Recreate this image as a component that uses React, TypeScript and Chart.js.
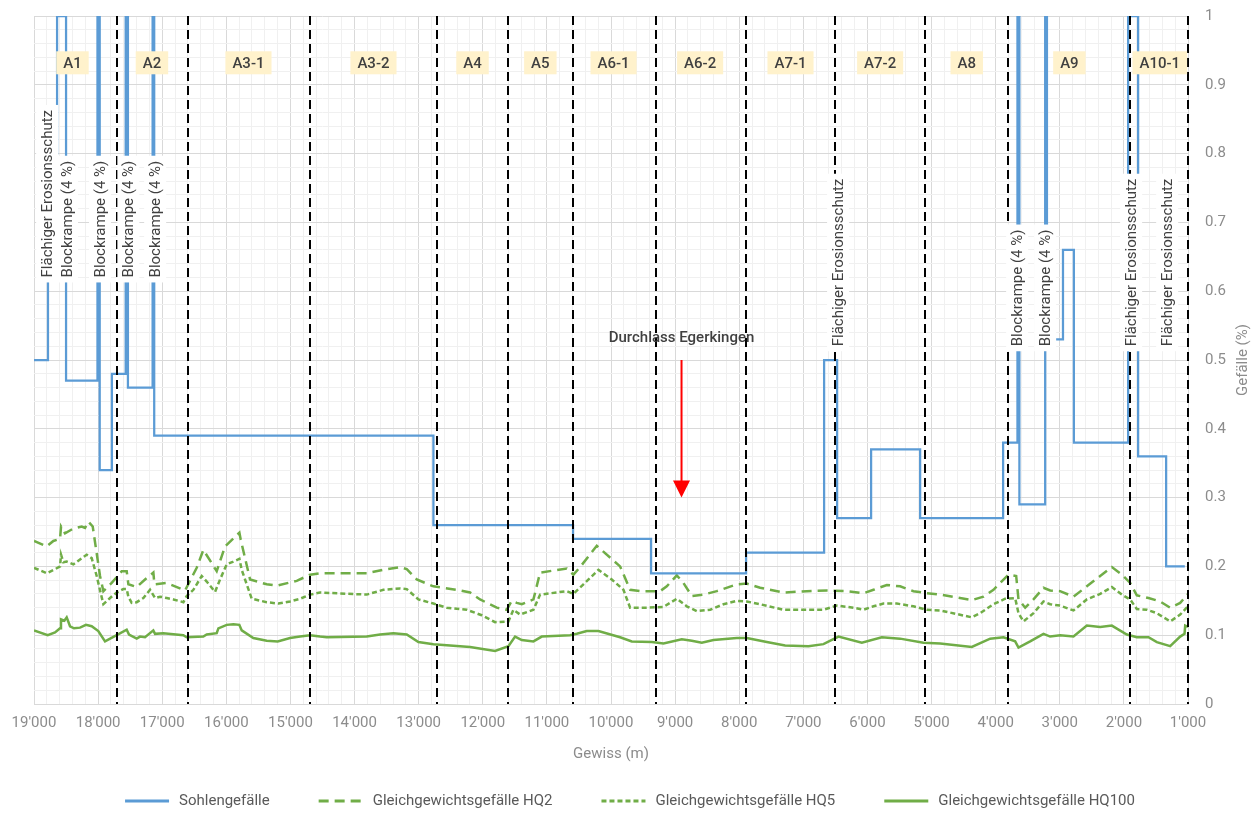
import React, { useEffect, useRef } from 'react';
import { Chart, registerables } from 'chart.js';

Chart.register(...registerables);

const FONT = 'Roboto, "Noto Sans", "DejaVu Sans", sans-serif';

// ---- Sohlengefälle (step function): break points along the river (m) and slope of each segment (%)
const sohleBreaks = [19000, 18782, 18640, 18500, 18010, 17975, 17785, 17570, 17535, 17150, 17125, 12770, 10592, 9375, 7893, 6676, 6473, 5943, 5178, 3884, 3660, 3630, 3228, 3200, 2950, 2780, 1934, 1778, 1341, 1050];
const sohleValues = [0.5, 0.8, 1.0, 0.47, 4, 0.34, 0.48, 4, 0.46, 4, 0.39, 0.26, 0.24, 0.19, 0.22, 0.5, 0.27, 0.37, 0.27, 0.38, 4, 0.29, 4, 0.53, 0.66, 0.38, 1.0, 0.36, 0.2];

// ---- Gleichgewichtsgefälle HQ2
const hq2Dist = [19000, 18802, 18698, 18594, 18578, 18516, 18386, 18256, 18204, 18152, 18084, 17970, 17918, 17788, 17632, 17554, 17528, 17398, 17268, 17138, 17122, 16930, 16644, 16462, 16358, 16150, 16020, 15796, 15776, 15630, 15370, 15214, 14902, 14694, 14538, 13810, 13550, 13290, 13186, 13030, 12770, 12406, 12198, 12042, 11782, 11626, 11548, 11470, 11392, 11210, 11106, 10898, 10690, 10586, 10482, 10222, 9858, 9702, 9546, 9234, 9130, 8974, 8870, 8740, 8558, 8350, 8038, 7882, 7674, 7310, 6946, 6634, 6322, 6062, 5906, 5698, 5490, 5282, 5074, 4866, 4372, 4190, 4034, 3800, 3680, 3644, 3540, 3410, 3254, 3150, 2994, 2786, 2578, 2370, 2188, 2032, 1902, 1798, 1616, 1434, 1278, 1122, 1000];
const hq2Values = [0.237, 0.229, 0.237, 0.240, 0.258, 0.248, 0.255, 0.258, 0.256, 0.265, 0.258, 0.186, 0.164, 0.176, 0.193, 0.193, 0.174, 0.170, 0.181, 0.191, 0.174, 0.176, 0.165, 0.198, 0.224, 0.193, 0.229, 0.249, 0.239, 0.181, 0.174, 0.172, 0.179, 0.188, 0.190, 0.190, 0.195, 0.199, 0.196, 0.181, 0.171, 0.166, 0.162, 0.152, 0.140, 0.137, 0.150, 0.147, 0.145, 0.152, 0.191, 0.194, 0.197, 0.188, 0.199, 0.230, 0.200, 0.166, 0.164, 0.164, 0.171, 0.187, 0.176, 0.157, 0.159, 0.164, 0.174, 0.175, 0.169, 0.162, 0.164, 0.165, 0.164, 0.161, 0.166, 0.173, 0.171, 0.164, 0.161, 0.159, 0.151, 0.156, 0.166, 0.188, 0.186, 0.152, 0.140, 0.152, 0.169, 0.165, 0.164, 0.156, 0.171, 0.186, 0.199, 0.188, 0.176, 0.158, 0.154, 0.149, 0.140, 0.147, 0.160];

// ---- Gleichgewichtsgefälle HQ5
const hq5Dist = [19000, 18802, 18672, 18594, 18578, 18542, 18490, 18386, 18282, 18178, 18100, 18022, 17918, 17814, 17710, 17606, 17554, 17528, 17476, 17398, 17294, 17190, 17112, 17034, 16930, 16826, 16670, 16618, 16514, 16384, 16306, 16176, 16098, 15994, 15890, 15796, 15760, 15604, 15370, 15188, 15006, 14850, 14694, 14538, 13810, 13550, 13290, 13186, 13004, 12770, 12562, 12250, 12016, 11808, 11600, 11522, 11418, 11210, 11106, 10690, 10586, 10430, 10196, 9988, 9806, 9702, 9442, 9182, 8974, 8818, 8662, 8454, 8246, 8038, 7882, 7674, 7310, 6946, 6686, 6478, 6218, 6062, 5906, 5750, 5542, 5282, 5074, 4866, 4372, 4242, 4034, 3852, 3696, 3644, 3566, 3410, 3254, 3150, 2994, 2786, 2578, 2370, 2188, 2032, 1902, 1798, 1642, 1486, 1278, 1122, 1000];
const hq5Values = [0.198, 0.190, 0.196, 0.200, 0.217, 0.206, 0.207, 0.203, 0.210, 0.217, 0.212, 0.186, 0.145, 0.154, 0.162, 0.167, 0.167, 0.156, 0.147, 0.148, 0.154, 0.166, 0.154, 0.156, 0.154, 0.152, 0.148, 0.157, 0.166, 0.186, 0.178, 0.163, 0.181, 0.203, 0.207, 0.211, 0.195, 0.153, 0.148, 0.146, 0.149, 0.153, 0.159, 0.162, 0.159, 0.166, 0.168, 0.167, 0.152, 0.146, 0.140, 0.137, 0.129, 0.119, 0.120, 0.137, 0.130, 0.137, 0.159, 0.164, 0.160, 0.174, 0.195, 0.181, 0.166, 0.140, 0.140, 0.141, 0.153, 0.142, 0.135, 0.137, 0.145, 0.150, 0.149, 0.145, 0.137, 0.137, 0.137, 0.143, 0.140, 0.137, 0.142, 0.146, 0.146, 0.142, 0.137, 0.136, 0.126, 0.132, 0.145, 0.153, 0.154, 0.132, 0.120, 0.132, 0.149, 0.145, 0.143, 0.136, 0.152, 0.160, 0.170, 0.159, 0.152, 0.138, 0.137, 0.132, 0.120, 0.130, 0.142];

// ---- Gleichgewichtsgefälle HQ100
const hq100Dist = [19000, 18786, 18672, 18594, 18579, 18527, 18490, 18438, 18376, 18282, 18189, 18100, 17997, 17892, 17710, 17554, 17518, 17398, 17346, 17268, 17139, 17112, 16983, 16671, 16618, 16359, 16306, 16150, 16124, 15994, 15890, 15797, 15760, 15579, 15370, 15199, 15006, 14850, 14694, 14538, 14434, 13810, 13602, 13394, 13186, 13004, 12770, 12198, 11808, 11600, 11496, 11392, 11210, 11080, 10638, 10534, 10378, 10196, 9858, 9676, 9364, 9182, 8896, 8740, 8584, 8402, 8038, 7882, 7570, 7284, 6920, 6686, 6452, 6088, 5776, 5490, 5126, 4866, 4372, 4086, 3878, 3696, 3644, 3462, 3254, 3150, 2994, 2786, 2578, 2370, 2188, 1954, 1798, 1616, 1486, 1278, 1122, 1054, 1044, 1000];
const hq100Values = [0.107, 0.100, 0.104, 0.110, 0.123, 0.121, 0.126, 0.113, 0.110, 0.111, 0.115, 0.113, 0.106, 0.091, 0.100, 0.108, 0.101, 0.095, 0.098, 0.097, 0.107, 0.102, 0.103, 0.100, 0.097, 0.098, 0.101, 0.103, 0.110, 0.115, 0.116, 0.115, 0.107, 0.096, 0.092, 0.091, 0.096, 0.098, 0.100, 0.098, 0.097, 0.098, 0.101, 0.103, 0.101, 0.090, 0.087, 0.083, 0.077, 0.084, 0.098, 0.093, 0.091, 0.098, 0.100, 0.102, 0.106, 0.106, 0.097, 0.091, 0.090, 0.088, 0.094, 0.092, 0.089, 0.093, 0.096, 0.096, 0.090, 0.085, 0.084, 0.087, 0.098, 0.089, 0.097, 0.095, 0.089, 0.088, 0.083, 0.095, 0.097, 0.091, 0.082, 0.091, 0.102, 0.098, 0.100, 0.098, 0.114, 0.112, 0.114, 0.101, 0.097, 0.097, 0.090, 0.084, 0.098, 0.102, 0.114, 0.112];

// ---- Abschnittsgrenzen and Abschnittsnamen
const sectionBounds = [17700, 16600, 14700, 12710, 11600, 10600, 9300, 7900, 6500, 5100, 3800, 1900, 1000];
const zoneNames = ['A1', 'A2', 'A3-1', 'A3-2', 'A4', 'A5', 'A6-1', 'A6-2', 'A7-1', 'A7-2', 'A8', 'A9', 'A10-1'];
const zoneCenters = [18400, 17160, 15655, 13705, 12160, 11102, 9960, 8610, 7200, 5802, 4451, 2850, 1440];
const zoneLabelLevel = 0.932;

// ---- Bauwerks-Beschriftungen (rotated)
const structTexts = ['Flächiger Erosionsschutz', 'Blockrampe (4 %)', 'Blockrampe (4 %)', 'Blockrampe (4 %)', 'Blockrampe (4 %)', 'Flächiger Erosionsschutz', 'Blockrampe (4 %)', 'Blockrampe (4 %)', 'Flächiger Erosionsschutz', 'Flächiger Erosionsschutz'];
const structAt = [18795, 18485, 17970, 17528, 17110, 6458, 3665, 3228, 1887, 1325];
const structBase = [0.62, 0.62, 0.62, 0.62, 0.62, 0.52, 0.52, 0.52, 0.52, 0.52];

// ---- Durchlass Egerkingen
const culvertText = 'Durchlass Egerkingen';
const culvertAt = 8900;
const culvertTextLevel = 0.532;
const culvertArrowFrom = 0.5;
const culvertArrowTo = 0.3;

const fmtThousands = (v: number) => String(Math.round(v)).replace(/\B(?=(\d{3})+(?!\d))/g, "'");

const isMajorX = (v: number) => Math.round(v) % 1000 === 0;
const isMajorY = (v: number) => Math.round(v * 100) % 10 === 0;

const annotPlugin = {
  id: 'annot',
  afterDatasetsDraw(chart: any) {
    const { ctx, chartArea } = chart;
    const x = chart.scales.x;
    const y = chart.scales.y;
    ctx.save();
    ctx.beginPath();
    ctx.rect(chartArea.left - 2, chartArea.top - 2, chartArea.right - chartArea.left + 4, chartArea.bottom - chartArea.top + 4);
    ctx.clip();

    // section boundaries
    ctx.strokeStyle = '#000000';
    ctx.lineWidth = 2;
    ctx.setLineDash([9, 5]);
    sectionBounds.forEach((b) => {
      const px = Math.round(x.getPixelForValue(b));
      ctx.beginPath();
      ctx.moveTo(px, chartArea.top);
      ctx.lineTo(px, chartArea.bottom);
      ctx.stroke();
    });
    ctx.setLineDash([]);

    // zone labels
    ctx.font = `500 15px ${FONT}`;
    ctx.textAlign = 'center';
    ctx.textBaseline = 'middle';
    zoneNames.forEach((name, i) => {
      const cx = x.getPixelForValue(zoneCenters[i]);
      const cy = y.getPixelForValue(zoneLabelLevel);
      const w = ctx.measureText(name).width + 14;
      const h = 23;
      ctx.fillStyle = '#fff2cc';
      ctx.fillRect(cx - w / 2, cy - h / 2, w, h);
      ctx.fillStyle = '#404040';
      ctx.fillText(name, cx, cy + 1);
    });

    // structure labels (rotated, white background)
    ctx.font = `15px ${FONT}`;
    structTexts.forEach((t, i) => {
      const cx = x.getPixelForValue(structAt[i]);
      const by = y.getPixelForValue(structBase[i]);
      const tw = ctx.measureText(t).width;
      ctx.save();
      ctx.translate(cx, by);
      ctx.rotate(-Math.PI / 2);
      ctx.fillStyle = '#ffffff';
      ctx.fillRect(-5, -11, tw + 10, 22);
      ctx.fillStyle = '#404040';
      ctx.textAlign = 'left';
      ctx.textBaseline = 'middle';
      ctx.fillText(t, 0, 1);
      ctx.restore();
    });

    // Durchlass Egerkingen
    const ax = x.getPixelForValue(culvertAt);
    ctx.font = `500 15px ${FONT}`;
    ctx.fillStyle = '#404040';
    ctx.textAlign = 'center';
    ctx.textBaseline = 'middle';
    ctx.fillText(culvertText, ax, y.getPixelForValue(culvertTextLevel));
    const y0 = y.getPixelForValue(culvertArrowFrom);
    const y1 = y.getPixelForValue(culvertArrowTo);
    ctx.strokeStyle = '#ff0000';
    ctx.fillStyle = '#ff0000';
    ctx.lineWidth = 2;
    ctx.beginPath();
    ctx.moveTo(ax, y0);
    ctx.lineTo(ax, y1 - 12);
    ctx.stroke();
    ctx.beginPath();
    ctx.moveTo(ax - 8.5, y1 - 17);
    ctx.lineTo(ax + 8.5, y1 - 17);
    ctx.lineTo(ax, y1);
    ctx.closePath();
    ctx.fill();
    ctx.restore();
  },
  afterDraw(chart: any) {
    const { ctx, chartArea } = chart;
    ctx.save();
    // y-axis title (reads bottom to top)
    ctx.font = `15px ${FONT}`;
    ctx.fillStyle = '#8c8c8c';
    ctx.translate(chart.width - 17, (chartArea.top + chartArea.bottom) / 2);
    ctx.rotate(-Math.PI / 2);
    ctx.textAlign = 'center';
    ctx.textBaseline = 'middle';
    ctx.fillText('Gefälle (%)', 0, 0);
    ctx.restore();

    // legend
    ctx.save();
    ctx.font = `15px ${FONT}`;
    const items = chart.data.datasets.map((ds: any) => ({
      text: ds.label,
      color: ds.borderColor,
      dash: ds.borderDash || [],
    }));
    const lineW = 44;
    const gapText = 10;
    const gapItem = 49;
    const widths = items.map((it: any) => lineW + gapText + ctx.measureText(it.text).width);
    const total = widths.reduce((a: number, b: number) => a + b, 0) + gapItem * (items.length - 1);
    let cx = (chart.width - total) / 2;
    const ly = chart.height - 13;
    items.forEach((it: any, i: number) => {
      ctx.strokeStyle = it.color;
      ctx.lineWidth = 3;
      ctx.setLineDash(it.dash);
      ctx.beginPath();
      ctx.moveTo(cx, ly);
      ctx.lineTo(cx + lineW, ly);
      ctx.stroke();
      ctx.setLineDash([]);
      ctx.fillStyle = '#595959';
      ctx.textAlign = 'left';
      ctx.textBaseline = 'middle';
      ctx.fillText(it.text, cx + lineW + gapText, ly);
      cx += widths[i] + gapItem;
    });
    ctx.restore();
  },
};

function zip(d: number[], v: number[]) {
  return d.map((xv, i) => ({ x: xv, y: v[i] }));
}

export default function App() {
  const canvasRef = useRef<HTMLCanvasElement | null>(null);

  useEffect(() => {
    document.body.style.margin = '0';
    if (!canvasRef.current) return;

    const sohlePoints: { x: number; y: number }[] = [];
    for (let i = 0; i < sohleValues.length; i++) {
      sohlePoints.push({ x: sohleBreaks[i], y: sohleValues[i] });
      sohlePoints.push({ x: sohleBreaks[i + 1], y: sohleValues[i] });
    }

    const green = '#70ad47';
    const chart = new Chart(canvasRef.current, {
      type: 'line',
      data: {
        datasets: [
          { label: 'Sohlengefälle', data: sohlePoints, borderColor: '#5b9bd5', backgroundColor: '#5b9bd5', borderWidth: 2.25, pointRadius: 0, tension: 0 },
          { label: 'Gleichgewichtsgefälle HQ2', data: zip(hq2Dist, hq2Values), borderColor: green, backgroundColor: green, borderWidth: 2.5, borderDash: [10, 6], pointRadius: 0, tension: 0 },
          { label: 'Gleichgewichtsgefälle HQ5', data: zip(hq5Dist, hq5Values), borderColor: green, backgroundColor: green, borderWidth: 2.5, borderDash: [5, 3], pointRadius: 0, tension: 0 },
          { label: 'Gleichgewichtsgefälle HQ100', data: zip(hq100Dist, hq100Values), borderColor: green, backgroundColor: green, borderWidth: 2.5, pointRadius: 0, tension: 0 },
        ],
      } as any,
      options: {
        animation: false,
        responsive: true,
        maintainAspectRatio: false,
        events: [],
        layout: { padding: { left: 34, top: 16, right: 0, bottom: 51 } },
        plugins: {
          legend: { display: false },
          tooltip: { enabled: false },
        },
        scales: {
          x: {
            type: 'linear',
            reverse: true,
            min: 1000,
            max: 19000,
            ticks: {
              stepSize: 200,
              autoSkip: false,
              maxRotation: 0,
              minRotation: 0,
              padding: 10,
              color: '#8c8c8c',
              font: { family: FONT, size: 15 },
              callback: (v: any) => (isMajorX(Number(v)) ? fmtThousands(Number(v)) : ''),
            },
            grid: {
              drawTicks: false,
              lineWidth: 1,
              color: (c: any) => (c.tick && isMajorX(c.tick.value) ? '#d9d9d9' : '#f0f0f0'),
            },
            border: { color: '#d9d9d9' },
            title: { display: true, text: 'Gewiss (m)', color: '#8c8c8c', font: { family: FONT, size: 15 }, padding: 0 },
            afterFit: (s: any) => {
              s.height = 59;
              s.paddingLeft = 0;
              s.paddingRight = 0;
            },
          },
          y: {
            type: 'linear',
            position: 'right',
            min: 0,
            max: 1,
            ticks: {
              stepSize: 0.02,
              autoSkip: false,
              padding: 17,
              color: '#8c8c8c',
              font: { family: FONT, size: 15 },
              callback: (v: any) => {
                const n = Number(v);
                if (!isMajorY(n)) return '';
                const r = Math.round(n * 10) / 10;
                return r === 0 ? '0' : r === 1 ? '1' : r.toFixed(1);
              },
            },
            grid: {
              drawTicks: false,
              lineWidth: 1,
              color: (c: any) => (c.tick && isMajorY(c.tick.value) ? '#d9d9d9' : '#f0f0f0'),
            },
            border: { color: '#d9d9d9' },
            afterFit: (s: any) => {
              s.width = 72;
              s.paddingTop = 0;
              s.paddingBottom = 0;
            },
          },
        },
      } as any,
      plugins: [annotPlugin],
    });

    return () => {
      chart.destroy();
    };
  }, []);

  return (
    <div style={{ position: 'absolute', left: 0, top: 0, width: 1260, height: 814 }}>
      <canvas ref={canvasRef} />
    </div>
  );
}
